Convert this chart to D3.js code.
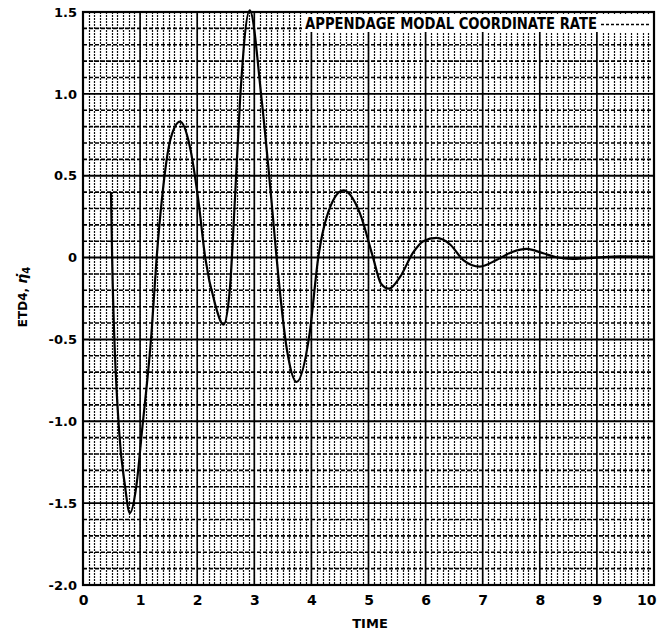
<!DOCTYPE html>
<html>
<head>
<meta charset="utf-8">
<script src="https://cdn.jsdelivr.net/npm/d3@7"></script>
<style>
  html, body { margin: 0; padding: 0; background: #fff; }
  svg { display: block; }
  text { font-family: "DejaVu Sans", "Liberation Sans", sans-serif; font-weight: bold; fill: #000; }
</style>
</head>
<body>
<svg id="chart" width="662" height="633"></svg>
<script>
// ---- data ----
const timeVals = [0.49, 0.51, 0.635, 0.73, 0.82, 0.94, 1.03, 1.20, 1.29, 1.38, 1.53, 1.70, 1.87, 2.02, 2.14, 2.31, 2.46, 2.57, 2.66, 2.75, 2.92, 3.13, 3.30, 3.39, 3.57, 3.74, 3.97, 4.12, 4.27, 4.56, 4.85, 5.08, 5.22, 5.36, 5.55, 5.78, 5.96, 6.19, 6.43, 6.66, 6.95, 7.24, 7.53, 7.77, 8.06, 8.29, 8.58, 8.99, 9.40, 10.0];
const rateVals = [0.40, 0.00, -1.07, -1.38, -1.56, -1.38, -1.07, -0.46, 0.00, 0.35, 0.72, 0.83, 0.68, 0.35, 0.00, -0.28, -0.41, -0.20, 0.35, 0.96, 1.51, 0.96, 0.35, 0.00, -0.56, -0.76, -0.46, 0.00, 0.25, 0.41, 0.27, 0.00, -0.16, -0.19, -0.12, 0.03, 0.10, 0.12, 0.08, -0.015, -0.055, -0.015, 0.036, 0.053, 0.026, 0.002, -0.008, 0.0, 0.008, 0.005];
const xTicks = [0, 1, 2, 3, 4, 5, 6, 7, 8, 9, 10];
const yTicks = [1.5, 1.0, 0.5, 0, -0.5, -1.0, -1.5, -2.0];
const yTickLabels = ["1.5", "1.0", "0.5", "0", "-0.5", "-1.0", "-1.5", "-2.0"];
const xTitle = "TIME";
const legendLabel = "APPENDAGE MODAL COORDINATE RATE";

// ---- layout ----
const svg = d3.select("#chart");
const L = 83, R = 654, T = 12, B = 585;
const x = d3.scaleLinear().domain([0, 10]).range([L, R]);
const y = d3.scaleLinear().domain([-2, 1.5]).range([B, T]);

svg.append("rect").attr("width", 662).attr("height", 633).attr("fill", "#fff");

const grid = svg.append("g");
// minor vertical lines every 0.1
d3.range(1, 100).filter(i => i % 10 !== 0).forEach(i => {
  const px = Math.round(x(i / 10)) + 0.5;
  grid.append("line")
    .attr("x1", px).attr("x2", px)
    .attr("y1", T).attr("y2", B)
    .attr("stroke", "#111").attr("stroke-width", 1.2)
    .attr("stroke-dasharray", "2,1");
});
// minor horizontal lines every 0.1
d3.range(-19, 15).filter(j => j % 5 !== 0).forEach(j => {
  grid.append("line")
    .attr("x1", L).attr("x2", R)
    .attr("y1", y(j / 10)).attr("y2", y(j / 10))
    .attr("stroke", "#000").attr("stroke-width", 1.6)
    .attr("stroke-dasharray", "4,2");
});
// major vertical
xTicks.forEach(v => {
  grid.append("line")
    .attr("x1", x(v)).attr("x2", x(v)).attr("y1", T).attr("y2", B)
    .attr("stroke", "#000").attr("stroke-width", 1.7);
});
// major horizontal
yTicks.forEach(v => {
  grid.append("line")
    .attr("x1", L).attr("x2", R).attr("y1", y(v)).attr("y2", y(v))
    .attr("stroke", "#000").attr("stroke-width", 1.9);
});

// legend (white patch over grid)
const lg = svg.append("g");
lg.append("rect").attr("x", 302).attr("y", 14).attr("width", R - 303).attr("height", 18).attr("fill", "#fff");
lg.append("text").attr("x", 305).attr("y", 29)
  .attr("font-size", 15)
  .attr("textLength", 292).attr("lengthAdjust", "spacingAndGlyphs")
  .text(legendLabel);
lg.append("line").attr("x1", 601).attr("x2", 650).attr("y1", 24.5).attr("y2", 24.5)
  .attr("stroke", "#000").attr("stroke-width", 1.3).attr("stroke-dasharray", "3,2");

// curve
const pts = timeVals.map((t, i) => [t, rateVals[i]]);
const line = d3.line().x(d => x(d[0])).y(d => y(d[1])).curve(d3.curveMonotoneX);
svg.append("path").attr("d", line(pts))
  .attr("fill", "none").attr("stroke", "#000").attr("stroke-width", 2.2)
  .attr("stroke-linejoin", "round");

// border
svg.append("rect").attr("x", L).attr("y", T).attr("width", R - L).attr("height", B - T)
  .attr("fill", "none").attr("stroke", "#000").attr("stroke-width", 2.2);

// axes labels
const xAxis = d3.axisBottom(x).tickValues(xTicks).tickSize(0).tickPadding(10).tickFormat(d3.format("d"));
const gx = svg.append("g").attr("transform", `translate(0,${B})`).call(xAxis);
gx.select(".domain").remove();
gx.selectAll("text").attr("font-size", 14).attr("font-family", "DejaVu Sans, sans-serif").attr("font-weight", "bold")
  .attr("text-anchor", d => d === 10 ? "end" : "middle")
  .attr("x", d => d === 10 ? 2 : 0);

const yAxis = d3.axisLeft(y).tickValues(yTicks).tickSize(0).tickPadding(6)
  .tickFormat((d, i) => yTickLabels[i]);
const gy = svg.append("g").attr("transform", `translate(${L},0)`).call(yAxis);
gy.select(".domain").remove();
gy.selectAll("text").attr("font-size", 13).attr("font-family", "DejaVu Sans, sans-serif").attr("font-weight", "bold");

svg.append("text").attr("x", 370).attr("y", 628).attr("text-anchor", "middle")
  .attr("font-size", 13).text(xTitle);

const yt = svg.append("text").attr("transform", "translate(27,297) rotate(-90)")
  .attr("text-anchor", "middle").attr("font-size", 12);
yt.append("tspan").text("ETD4, ");
yt.append("tspan").attr("font-style", "italic").attr("font-size", 14).text("\u03B7\u0307");
yt.append("tspan").attr("dy", 3).attr("font-size", 10).text("4");
</script>
</body>
</html>
